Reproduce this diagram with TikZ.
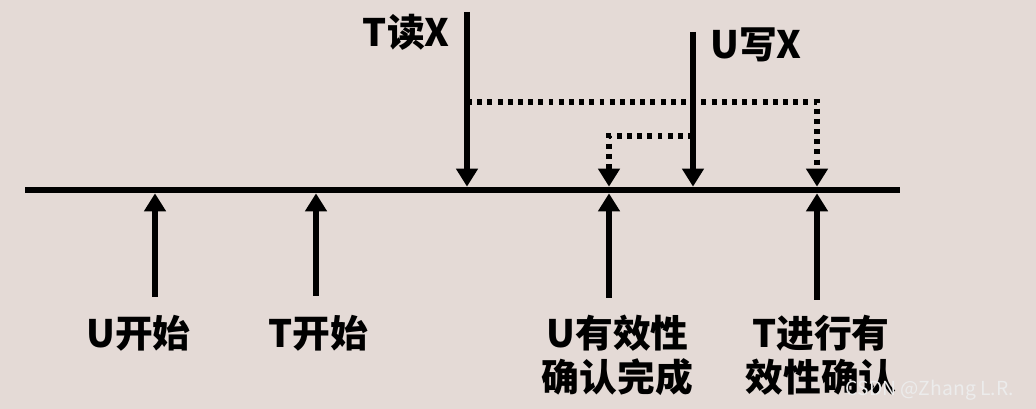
\documentclass[tikz,border=0pt]{standalone}
\usepackage{fontspec}
\setmainfont{Noto Sans CJK SC}[BoldFont={Noto Sans CJK SC Black}]
\usetikzlibrary{arrows.meta, positioning, calc}

\definecolor{bgTone}{RGB}{228,218,214}

\begin{document}
\begin{tikzpicture}[
  axis/.style={line width=3.8pt},
  event/.style={-{Triangle[width=0.42cm,length=0.36cm]}, line width=3.8pt, shorten >=1.9pt},
  check/.style={-{Triangle[width=0.42cm,length=0.36cm]}, line width=3pt, dash pattern=on 2.8pt off 3pt, shorten >=1.9pt},
  label/.style={font=\fontsize{21.5}{25}\selectfont\bfseries, align=center, inner sep=0pt}
]
\fill[bgTone] (0,0) rectangle (20.72,8.18);
\useasboundingbox (0,0) rectangle (20.72,8.18);

\coordinate (axisL) at (0.5,4.38);
\coordinate (axisR) at (18.0,4.38);
\draw[axis] (axisL) -- (axisR);

\coordinate (uStartP) at (3.10,4.38);
\coordinate (tStartP) at (6.32,4.38);
\coordinate (tReadP) at (9.34,4.38);
\coordinate (uDoneP) at (12.18,4.38);
\coordinate (uWriteP) at (13.86,4.38);
\coordinate (tCheckP) at (16.34,4.38);

\coordinate (uStartB) at (3.10,2.24);
\coordinate (tStartB) at (6.32,2.26);
\coordinate (uDoneB) at (12.18,2.22);
\coordinate (tCheckB) at (16.34,2.18);
\coordinate (tReadT) at (9.34,7.94);
\coordinate (uWriteT) at (13.86,7.54);
\coordinate (tReadK) at (9.34,6.14);
\coordinate (uWriteK) at (13.86,5.46);

\node[label] (uStart) at (2.77,1.52) {U开始};
\node[label] (tStart) at (6.37,1.52) {T开始};
\node[label] (uDone) at (12.35,1.08) {U有效性\\确认完成};
\node[label] (tCheck) at (16.42,1.08) {T进行有\\效性确认};
\node[label, anchor=east] (tRead) at (9.0,7.54) {T读X};
\node[label, anchor=west] (uWrite) at (14.2,7.28) {U写X};

\draw[event] (uStartB) -- (uStartP);
\draw[event] (tStartB) -- (tStartP);
\draw[event] (uDoneB) -- (uDoneP);
\draw[event] (tCheckB) -- (tCheckP);
\draw[event] (tReadT) -- (tReadP);
\draw[event] (uWriteT) -- (uWriteP);

\draw[check] (tReadK) -| (tCheckP);
\draw[check] (uWriteK) -| (uDoneP);

\node[font=\fontsize{11}{13}\selectfont, text=white!85!gray, anchor=east] (mark) at (20.4,0.38) {CSDN @Zhang L.R.};
\end{tikzpicture}
\end{document}
